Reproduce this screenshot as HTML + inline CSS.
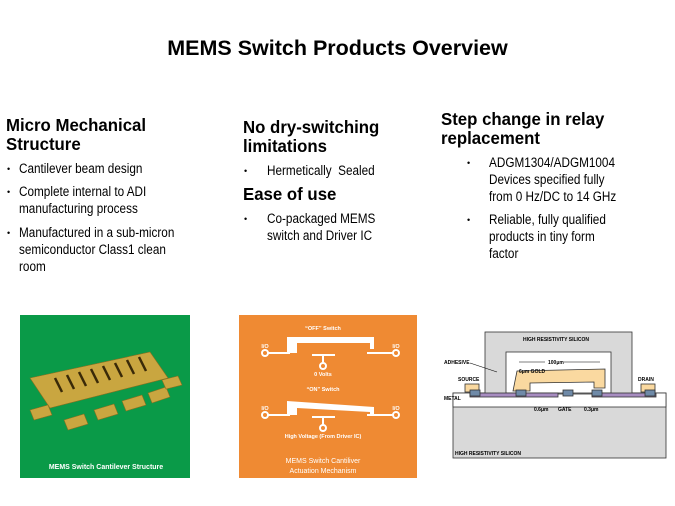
<!DOCTYPE html>
<html><head><meta charset="utf-8"><style>
body{margin:0;width:675px;height:506px;background:#fff;position:relative;overflow:hidden;font-family:"Liberation Sans",sans-serif;color:#000}
.a{position:absolute;white-space:nowrap}
.h{font-weight:bold;font-size:17.5px;line-height:19px;transform:scaleX(0.96);transform-origin:left top}
.t{font-size:13.5px;line-height:17px;transform:scaleX(0.87);transform-origin:left top}
.b{font-size:9px;line-height:17px}
</style></head><body>
<div class="a" style="left:0;width:675px;text-align:center;top:36px;font-weight:bold;font-size:21.5px">MEMS Switch Products Overview</div>

<div class="a h" style="left:6px;top:116px">Micro Mechanical<br>Structure</div>
<div class="a b" style="left:7px;top:161px">•</div><div class="a t" style="left:19px;top:160px">Cantilever beam design</div>
<div class="a b" style="left:7px;top:184px">•</div><div class="a t" style="left:19px;top:183px">Complete internal to ADI<br>manufacturing process</div>
<div class="a b" style="left:7px;top:225px">•</div><div class="a t" style="left:19px;top:224px">Manufactured in a sub-micron<br>semiconductor Class1 clean<br>room</div>

<div class="a h" style="left:243px;top:118px">No dry-switching<br>limitations</div>
<div class="a b" style="left:244px;top:163px">•</div><div class="a t" style="left:267px;top:162px">Hermetically&nbsp; Sealed</div>
<div class="a h" style="left:243px;top:185px">Ease of use</div>
<div class="a b" style="left:244px;top:211px">•</div><div class="a t" style="left:267px;top:210px">Co-packaged MEMS<br>switch and Driver IC</div>

<div class="a h" style="left:441px;top:110px">Step change in relay<br>replacement</div>
<div class="a b" style="left:467px;top:155px">•</div><div class="a t" style="left:489px;top:154px">ADGM1304/ADGM1004<br>Devices specified fully<br>from 0 Hz/DC to 14 GHz</div>
<div class="a b" style="left:467px;top:212px">•</div><div class="a t" style="left:489px;top:211px">Reliable, fully qualified<br>products in tiny form<br>factor</div>

<svg class="a" style="left:0;top:0" width="675" height="506" font-family="Liberation Sans,sans-serif" font-weight="bold">
<rect x="20" y="315" width="170" height="163" fill="#0a9a48"/>
<g fill="#c9a640" stroke="#8a6e20" stroke-width="0.6">
<polygon points="30,378 150,352 168,378 50,408"/>
<polygon points="30,410 48,405 52,415 34,420"/>
<polygon points="64,420 84,414 88,424 68,430"/>
<polygon points="94,410 114,404 118,414 98,420"/>
<polygon points="122,401 142,395 146,405 126,411"/>
<polygon points="148,393 166,387 170,397 152,403"/>
<polygon points="162,380 178,376 182,385 166,389"/>
</g>
<g stroke="#3a2a08" stroke-width="2.5">
<line x1="62" y1="392" x2="55" y2="378"/><line x1="74" y1="389" x2="67" y2="375"/><line x1="86" y1="386" x2="79" y2="372"/><line x1="98" y1="383" x2="91" y2="369"/><line x1="110" y1="380" x2="103" y2="366"/><line x1="122" y1="377" x2="115" y2="363"/><line x1="134" y1="374" x2="127" y2="360"/><line x1="146" y1="371" x2="139" y2="357"/>
</g>
<text x="106" y="469" fill="#fff" font-size="7" text-anchor="middle">MEMS Switch Cantilever Structure</text>
<rect x="239" y="315" width="178" height="163" fill="#ef8a33"/>
<g fill="#fff" font-size="5.5" text-anchor="middle">
<text x="323" y="330">“OFF” Switch</text>
<text x="323" y="376">0 Volts</text>
<text x="323" y="391">“ON” Switch</text>
<text x="323" y="438">High Voltage (From Driver IC)</text>
<text x="265" y="348">I/O</text><text x="396" y="348">I/O</text>
<text x="265" y="410">I/O</text><text x="396" y="410">I/O</text>
<text x="323" y="463" font-size="7" font-weight="normal">MEMS Switch Cantiliver</text>
<text x="323" y="473" font-size="7" font-weight="normal">Actuation Mechanism</text>
</g>
<g stroke="#fff" fill="none" stroke-width="2">
<circle cx="265" cy="353" r="3"/><circle cx="396" cy="353" r="3"/><circle cx="323" cy="366" r="3"/>
<line x1="268" y1="353" x2="290" y2="353"/><line x1="367" y1="353" x2="393" y2="353"/>
<line x1="312" y1="355" x2="335" y2="355"/><line x1="323" y1="355" x2="323" y2="363"/>
<circle cx="265" cy="415" r="3"/><circle cx="396" cy="415" r="3"/><circle cx="323" cy="428" r="3"/>
<line x1="268" y1="415" x2="290" y2="415"/><line x1="367" y1="415" x2="393" y2="415"/>
<line x1="312" y1="417" x2="335" y2="417"/><line x1="323" y1="417" x2="323" y2="425"/>
</g>
<g fill="#fff">
<polygon points="287,337 374,337 374,349 370,349 370,343 297,343 297,353 287,353"/>
<polygon points="287,401 374,407 374,414 370,414 370,412 297,408 297,415 287,415"/>
</g>
<g stroke="#333" stroke-width="0.8" font-weight="bold" font-size="5">
<rect x="453" y="393" width="213" height="65" fill="#d9d9d9"/>
<rect x="453" y="393" width="213" height="14" fill="#fff"/>
<rect x="485" y="332" width="147" height="62" fill="#d9d9d9"/>
<rect x="506" y="352" width="105" height="41" fill="#fff"/>
<polygon points="513,391 517,371 605,369 605,388 594,388 594,382 530,383 530,391" fill="#fad9a0"/>
<rect x="465" y="384" width="14" height="8" fill="#fad9a0"/>
<rect x="641" y="384" width="14" height="8" fill="#fad9a0"/>
<rect x="470" y="393" width="88" height="4" fill="#a78cc0"/>
<rect x="592" y="393" width="64" height="4" fill="#a78cc0"/>
<rect x="470" y="390" width="10" height="6" fill="#6f8aa8"/><rect x="516" y="390" width="10" height="6" fill="#6f8aa8"/>
<rect x="563" y="390" width="10" height="6" fill="#6f8aa8"/><rect x="592" y="390" width="10" height="6" fill="#6f8aa8"/><rect x="645" y="390" width="10" height="6" fill="#6f8aa8"/>
</g>
<g font-size="5" fill="#000" font-weight="bold">
<text x="523" y="341">HIGH RESISTIVITY SILICON</text>
<text x="455" y="455">HIGH RESISTIVITY SILICON</text>
<text x="444" y="364">ADHESIVE</text>
<text x="458" y="381">SOURCE</text><text x="638" y="381">DRAIN</text>
<text x="444" y="400">METAL</text>
<text x="519" y="373">6μm GOLD</text>
<text x="548" y="364">100μm</text>
<text x="534" y="411">0.6μm</text><text x="558" y="411">GATE</text><text x="584" y="411">0.3μm</text>
</g>
<g stroke="#000" stroke-width="0.6">
<line x1="519" y1="362" x2="545" y2="362"/><line x1="564" y1="362" x2="600" y2="362"/>
<line x1="470" y1="363" x2="497" y2="372"/>
</g>
</svg>
</body></html>
